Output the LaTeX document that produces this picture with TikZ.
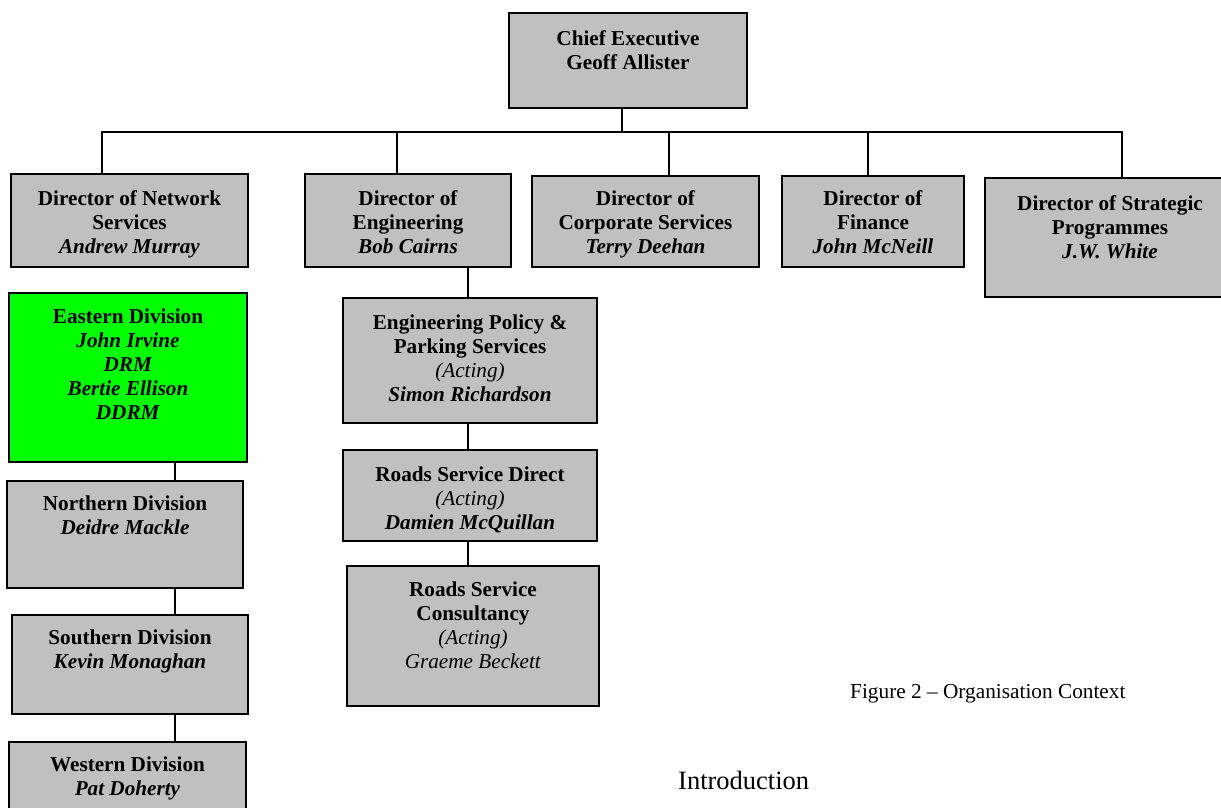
\documentclass[tikz,border=0pt]{standalone}
\usepackage{fontspec}
\setmainfont{Liberation Serif}
\definecolor{boxgray}{HTML}{C0C0C0}
\definecolor{boxgreen}{HTML}{00FF00}
\tikzset{
  orgbox/.style={draw=black, line width=2pt, rectangle, inner sep=0pt},
  txt/.style={align=center, inner sep=0pt, font=\fontsize{21.2}{24}\selectfont\bfseries},
  link/.style={draw=black, line width=2pt},
}
\newcommand\mkbox[6]{\node[orgbox, fill=#6, minimum width={(#4-#2)*1pt}, minimum height={(#5-#3)*1pt}] (#1) at ({(#2+#4)/2},{(#3+#5)/2}) {};}
\begin{document}
\begin{tikzpicture}[x=1pt,y=-1pt]
\fill[white] (0,0) rectangle (1221,807);
\useasboundingbox (0,0) rectangle (1221,807);
% boxes
\mkbox{ceo}{509}{13}{747}{108}{boxgray}
\mkbox{net}{11}{174}{248}{267}{boxgray}
\mkbox{eng}{305}{174}{511}{267}{boxgray}
\mkbox{corp}{532}{176}{759}{267}{boxgray}
\mkbox{fin}{782}{176}{964}{267}{boxgray}
\mkbox{strat}{985}{178}{1235}{297}{boxgray}
\mkbox{east}{9}{293}{247}{462}{boxgreen}
\mkbox{nor}{7}{481}{243}{588}{boxgray}
\mkbox{sou}{12}{615}{248}{714}{boxgray}
\mkbox{wes}{9}{742}{246}{830}{boxgray}
\mkbox{pol}{343}{298}{597}{423}{boxgray}
\mkbox{rsd}{343}{450}{597}{541}{boxgray}
\mkbox{rsc}{347}{566}{599}{706}{boxgray}
% texts
\node[txt, anchor=north] (ceoT) at ([yshift=-18pt]ceo.north) {Chief Executive\\Geoff Allister};
\node[txt, anchor=north] (netT) at ([yshift=-17pt]net.north) {Director of Network\\Services\\\textit{Andrew Murray}};
\node[txt, anchor=north] (engT) at ([yshift=-17pt]eng.north) {Director of\\Engineering\\\textit{Bob Cairns}};
\node[txt, anchor=north] (corpT) at ([yshift=-15pt]corp.north) {Director of\\Corporate Services\\\textit{Terry Deehan}};
\node[txt, anchor=north] (finT) at ([yshift=-15pt]fin.north) {Director of\\Finance\\\textit{John McNeill}};
\node[txt, anchor=north] (stratT) at ([yshift=-18pt]strat.north) {Director of Strategic\\Programmes\\\textit{J.W. White}};
\node[txt, anchor=north] (eastT) at ([yshift=-17pt]east.north) {Eastern Division\\\textit{John Irvine}\\\textit{DRM}\\\textit{Bertie Ellison}\\\textit{DDRM}};
\node[txt, anchor=north] (norT) at ([yshift=-16pt]nor.north) {Northern Division\\\textit{Deidre Mackle}};
\node[txt, anchor=north] (souT) at ([yshift=-16pt]sou.north) {Southern Division\\\textit{Kevin Monaghan}};
\node[txt, anchor=north] (wesT) at ([yshift=-16pt]wes.north) {Western Division\\\textit{Pat Doherty}};
\node[txt, anchor=north] (polT) at ([yshift=-18pt]pol.north) {Engineering Policy \&\\Parking Services\\\mdseries\textit{(Acting)}\\\textit{Simon Richardson}};
\node[txt, anchor=north] (rsdT) at ([yshift=-18pt]rsd.north) {Roads Service Direct\\\mdseries\textit{(Acting)}\\\textit{Damien McQuillan}};
\node[txt, anchor=north] (rscT) at ([yshift=-17pt]rsc.north) {Roads Service\\Consultancy\\\mdseries\textit{(Acting)}\\\mdseries\textit{Graeme Beckett}};
% connectors
\coordinate (bus) at (622,132);
\draw[link] ([xshift=-6pt]ceo.south) -- (bus);
\draw[link] ([xshift=-27.5pt]net.north) |- (bus) -| ([xshift=12pt]strat.north);
\draw[link] ([xshift=-11pt]eng.north) -- ([xshift=-11pt]eng.north |- bus);
\draw[link] ([xshift=23.5pt]corp.north) -- ([xshift=23.5pt]corp.north |- bus);
\draw[link] ([xshift=-5pt]fin.north) -- ([xshift=-5pt]fin.north |- bus);
\draw[link] ([xshift=60pt]eng.south) -- ([xshift=60pt]eng.south |- pol.north);
\draw[link] ([xshift=-2pt]pol.south) -- ([xshift=-2pt]pol.south |- rsd.north);
\draw[link] ([xshift=-2pt]rsd.south) -- ([xshift=-2pt]rsd.south |- rsc.north);
\draw[link] ([xshift=47pt]east.south) -- ([xshift=47pt]east.south |- nor.north);
\draw[link] ([xshift=50pt]nor.south) -- ([xshift=50pt]nor.south |- sou.north);
\draw[link] ([xshift=45pt]sou.south) -- ([xshift=45pt]sou.south |- wes.north);
% captions
\node[anchor=base west, inner sep=0pt, font=\fontsize{21.3}{24}\selectfont] (cap) at (850,698) {Figure 2 -- Organisation Context};
\node[anchor=base west, inner sep=0pt, font=\fontsize{26.5}{30}\selectfont] (intro) at (678,789) {Introduction};
\end{tikzpicture}
\end{document}
